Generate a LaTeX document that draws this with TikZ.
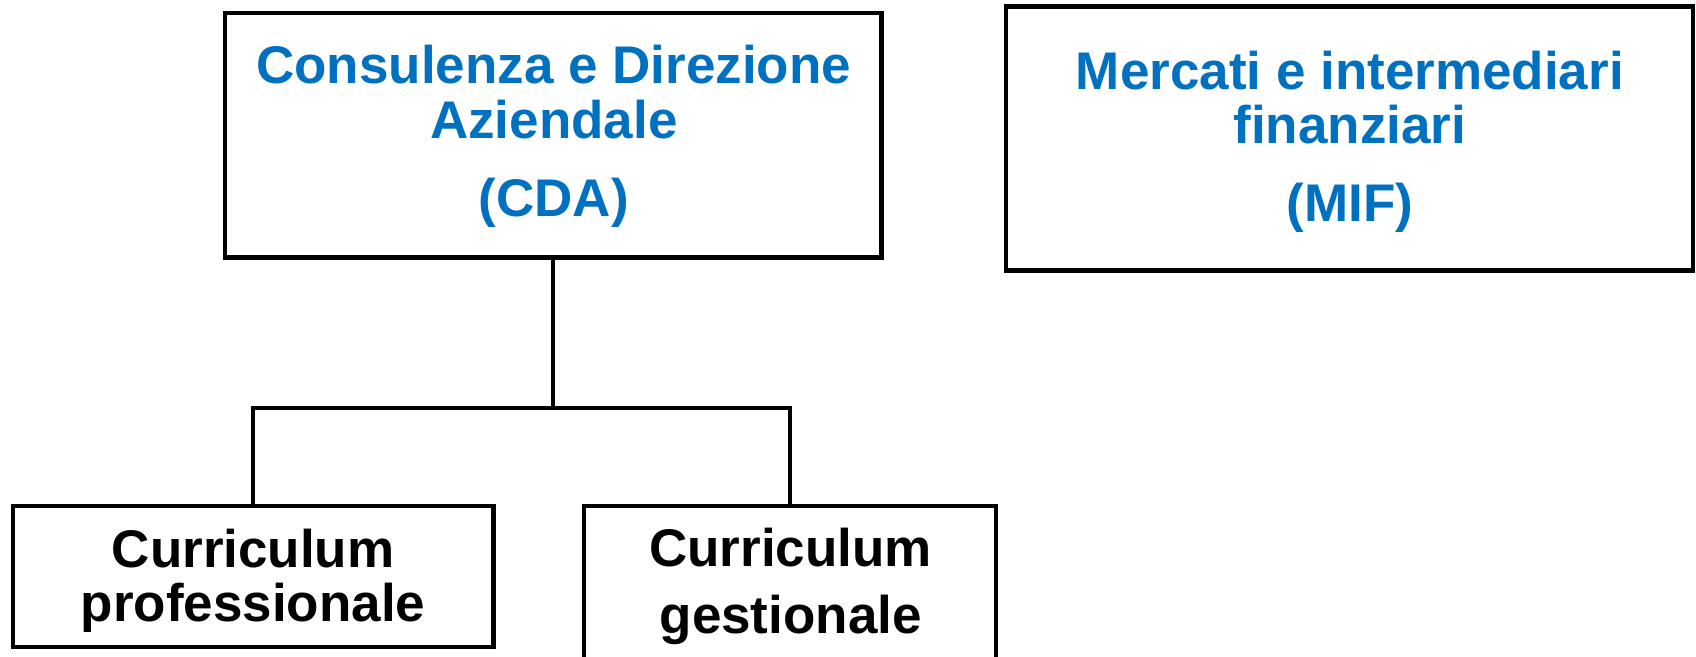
\documentclass[tikz,border=0pt]{standalone}
\usepackage{fontspec}
\setmainfont{Liberation Sans}
\definecolor{txtblue}{HTML}{0070C0}
\begin{document}
\begin{tikzpicture}[x=1pt,y=-1pt,
  box/.style={draw=black, line width=4.2pt, fill=white, inner sep=0pt, rectangle},
  conn/.style={draw=black, line width=3.6pt},
  lbl/.style={anchor=base, inner sep=0pt, font=\fontsize{49}{52}\selectfont\bfseries},
  bluelbl/.style={lbl, text=txtblue}]
\useasboundingbox (0,0) rectangle (1568,606.5);
\clip (0,0) rectangle (1568,606.5);
\fill[white] (0,0) rectangle (1568,606.5);
% boxes
\node[box, minimum width=607, minimum height=226] (cda) at (511.5,125) {};
\node[box, minimum width=635, minimum height=244] (mif) at (1247.5,128) {};
\node[box, minimum width=444, minimum height=130] (prof) at (234,533) {};
\node[box, minimum width=381, minimum height=172] (gest) at (730.5,554) {};
% texts
\node[bluelbl] (cda1) at (512,77) {Consulenza e Direzione};
\node[bluelbl] (cda2) at (512,128) {Aziendale};
\node[bluelbl] (cda3) at (512,200) {(CDA)};
\node[bluelbl] (mif1) at (1248,83) {Mercati e intermediari};
\node[bluelbl] (mif2) at (1248,133) {finanziari};
\node[bluelbl] (mif3) at (1248,205) {(MIF)};
\node[lbl] (prof1) at (234,525) {Curriculum};
\node[lbl] (prof2) at (234,575) {professionale};
\node[lbl] (gest1) at (731,524) {Curriculum};
\node[lbl] (gest2) at (731,586) {gestionale};
% connectors
\coordinate (j) at (511.5,377);
\draw[conn] (cda.south) -- (j);
\draw[conn, line cap=rect] (prof.north) -- (prof.north |- j) -- (gest.north |- j) -- (gest.north);
\end{tikzpicture}
\end{document}
